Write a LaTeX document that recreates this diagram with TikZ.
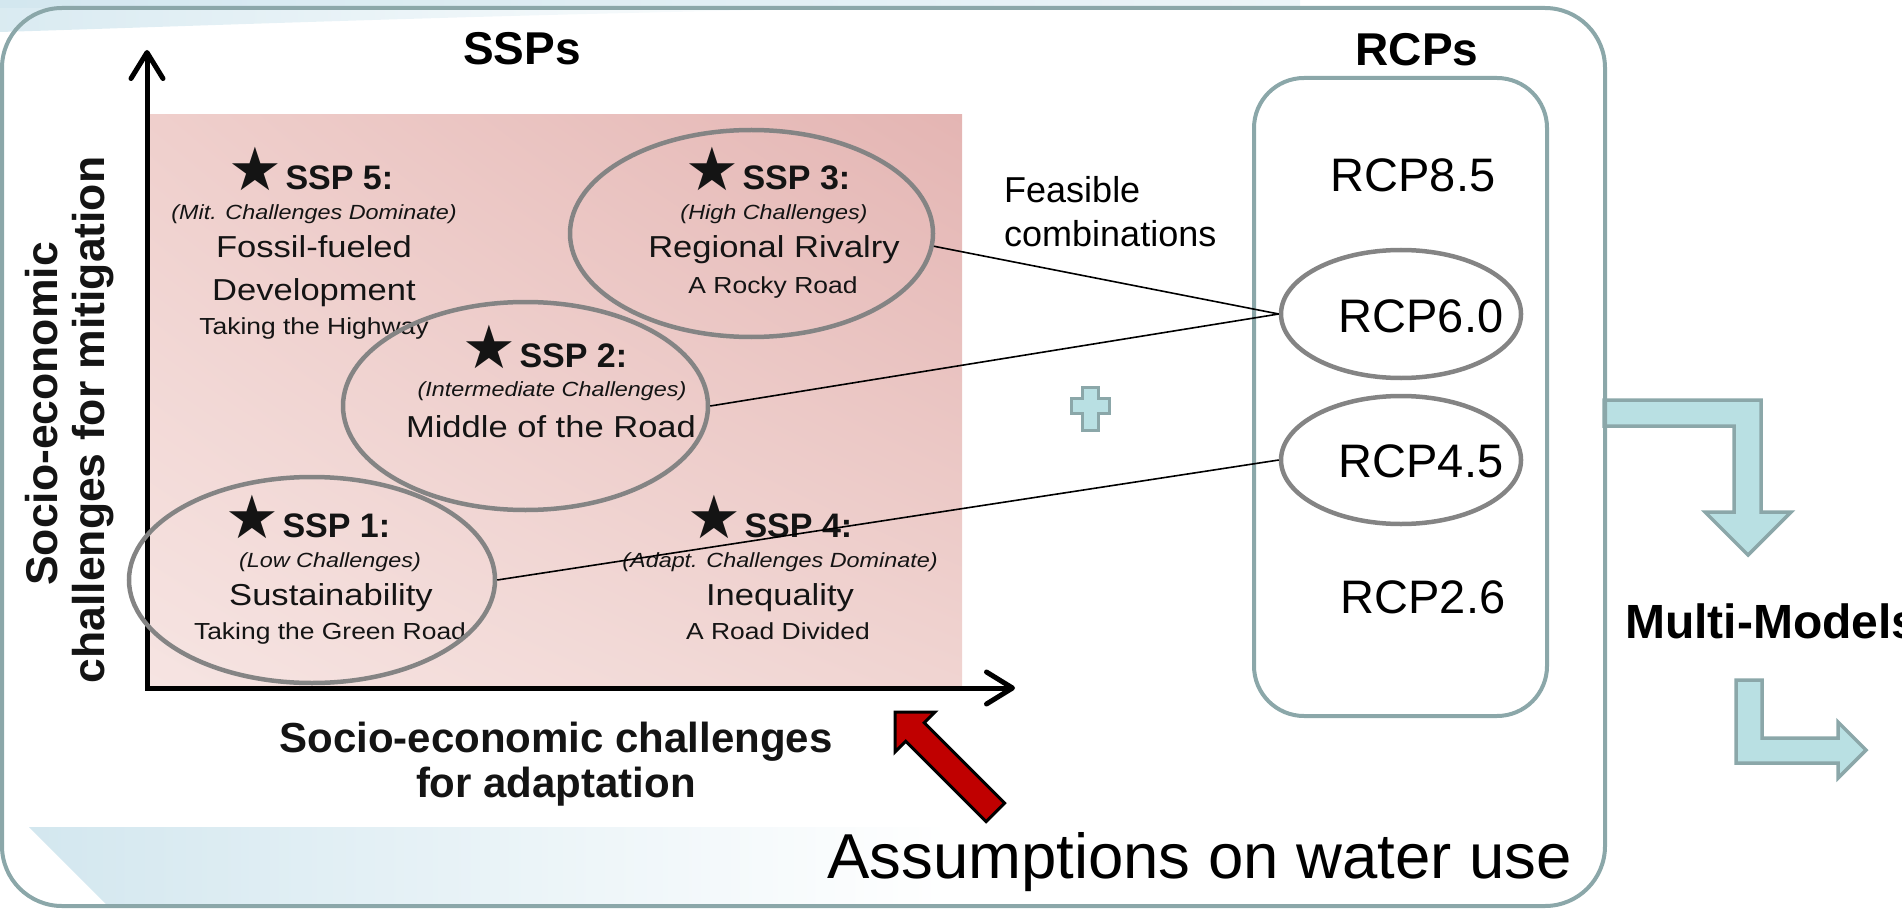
\documentclass[tikz,border=0pt]{standalone}
\usepackage{fontspec}
\setmainfont{Liberation Sans}
\newfontfamily\starfont{DejaVu Sans}
\newfontfamily\figfont[FakeStretch=1.14]{Liberation Sans}
\usetikzlibrary{shapes.geometric,arrows.meta,shadings}
\definecolor{boxc}{HTML}{8BA7A9}
\definecolor{arrfill}{HTML}{B9E0E3}
\definecolor{ellc}{HTML}{848484}
\definecolor{txtc}{HTML}{141414}
\definecolor{pinkTL}{HTML}{EFCFCC}
\definecolor{pinkTR}{HTML}{E4B5B3}
\definecolor{pinkBL}{HTML}{F6E4E2}
\definecolor{pinkBR}{HTML}{F0D4D1}
\definecolor{bandc}{HTML}{D3E7EF}
\definecolor{redarr}{HTML}{C00000}
\newcommand{\bstar}{\hspace*{-6pt}\raisebox{-1pt}{\starfont\fontsize{60}{60}\selectfont ★}\hspace{3pt}}
\begin{document}
\begin{tikzpicture}[x=1pt,y=-1pt,
  ttl/.style={anchor=base,inner sep=0pt,text=txtc,font=\figfont\fontsize{30.3}{34}\selectfont},
  sub/.style={anchor=base,inner sep=0pt,text=txtc,font=\figfont\fontsize{23.2}{26}\selectfont},
  itl/.style={anchor=base,inner sep=0pt,text=txtc,font=\figfont\itshape\fontsize{20.5}{24}\selectfont},
  sspl/.style={anchor=base,inner sep=0pt,text=txtc,font=\fontsize{34}{38}\selectfont\bfseries},
  axl/.style={anchor=base,inner sep=0pt,text=txtc,font=\fontsize{42}{46}\selectfont\bfseries},
  hdr/.style={anchor=base,inner sep=0pt,font=\fontsize{46}{50}\selectfont\bfseries},
  rcp/.style={anchor=base,inner sep=0pt,font=\fontsize{47}{50}\selectfont},
  feas/.style={anchor=base west,inner sep=0pt,font=\fontsize{36}{40}\selectfont},
  ell/.style={ellipse,draw=ellc,line width=4.5pt,inner sep=0pt},
  conn/.style={draw=black,line width=1.6pt},
  axis/.style={line width=5pt,-{Straight Barb[length=26pt,width=32pt,round]}},
  blockarrow/.style={fill=arrfill,draw=boxc,line width=3.5pt,line join=miter}
]
\useasboundingbox (0,0) rectangle (1902,909);
% background decorations
\shade[left color=bandc,right color=bandc!45] (0,0) rectangle (1300,9);
\shade[left color=bandc!85,right color=white] (0,8) -- (880,8) .. controls (500,14) and (200,26) .. (0,32) -- cycle;
\shade[left color=bandc,right color=white] (29,827) -- (950,827) -- (950,905) -- (107,905) -- cycle;
% block arrows
\draw[blockarrow] (1604,400) -- (1761,400) -- (1761,512) -- (1791,512) -- (1748,555) -- (1705,512) -- (1734,512) -- (1734,426) -- (1604,426) -- cycle;
\draw[blockarrow] (1736,680) -- (1762,680) -- (1762,738) -- (1838,738) -- (1838,722) -- (1866,750) -- (1838,778) -- (1838,763) -- (1736,763) -- cycle;
% outer and inner boxes
\draw[boxc,line width=4pt,rounded corners=60pt] (2,8) rectangle (1605,906);
\draw[boxc,line width=4pt,rounded corners=50pt] (1254,78) rectangle (1547,716);
% pink field
\shade[upper left=pinkTL,upper right=pinkTR,lower left=pinkBL,lower right=pinkBR] (150,115) rectangle (962,686);
% axes
\coordinate (ytip) at (147,50);
\coordinate (xtip) at (1015,688);
\draw[axis] (147,690) -- (ytip);
\draw[axis] (145,688) -- (xtip);
\node[axl,rotate=90,font=\fontsize{44.5}{48}\selectfont\bfseries] (yl1) at (57,414) {Socio-economic};
\node[axl,rotate=90,font=\fontsize{44.5}{48}\selectfont\bfseries] (yl2) at (104,420) {challenges for mitigation};
\node[axl] (xl1) at (556,752) {Socio-economic challenges};
\node[axl] (xl2) at (556,797) {for adaptation};
% headers
\node[hdr] (ssps) at (522,65) {SSPs};
\node[hdr] (rcps) at (1417,66) {RCPs};
% SSP 5
\node[sspl] (s5h) at (314,190) {\bstar SSP 5:};
\node[itl] (s5i) at (314,220) {(Mit. Challenges Dominate)};
\node[ttl] (s5t) at (314,258) {Fossil-fueled};
\node[ttl] (s5u) at (314,300) {Development};
\node[sub] (s5s) at (314,334) {Taking the Highway};
% SSP 3
\node[sspl] (s3h) at (771,190) {\bstar SSP 3:};
\node[itl] (s3i) at (774,220) {(High Challenges)};
\node[ttl] (s3t) at (774,258) {Regional Rivalry};
\node[sub] (s3s) at (773,293) {A Rocky Road};
% SSP 2
\node[sspl] (s2h) at (548,367) {\bstar SSP 2:};
\node[itl] (s2i) at (552,396) {(Intermediate Challenges)};
\node[ttl] (s2t) at (551,437) {Middle of the Road};
% SSP 1
\node[sspl] (s1h) at (311,537) {\bstar SSP 1:};
\node[itl] (s1i) at (330,567) {(Low Challenges)};
\node[ttl] (s1t) at (331,605) {Sustainability};
\node[sub] (s1s) at (330,639) {Taking the Green Road};
% SSP 4
\node[sspl] (s4h) at (773,537) {\bstar SSP 4:};
\node[itl] (s4i) at (780,567) {(Adapt. Challenges Dominate)};
\node[ttl] (s4t) at (780,605) {Inequality};
\node[sub] (s4s) at (778,639) {A Road Divided};
% ellipses
\node[ell,minimum width=363pt,minimum height=207pt] (e3) at (751.5,233.5) {};
\node[ell,minimum width=365pt,minimum height=208pt] (e2) at (525.5,406) {};
\node[ell,minimum width=366pt,minimum height=206pt] (e1) at (312,580) {};
% RCPs
\node[rcp] (r85) at (1413,192) {RCP8.5};
\node[rcp] (r60t) at (1421,332) {RCP6.0};
\node[rcp] (r45t) at (1421,477) {RCP4.5};
\node[rcp] (r26) at (1423,613) {RCP2.6};
\node[ell,minimum width=240pt,minimum height=128pt] (r60) at (1401,314) {};
\node[ell,minimum width=240pt,minimum height=128pt] (r45) at (1401,460) {};
% feasible
\node[feas] (f1) at (1004,203) {Feasible};
\node[feas] (f2) at (1004,247) {combinations};
% connectors
\draw[conn] (e3.-4.5) -- (r60.west);
\draw[conn] (e2.east) -- (r60.west);
\draw[conn] (e1.east) -- (r45.west);
% plus sign
\draw[fill=arrfill,draw=boxc,line width=3pt] (1082,387) -- (1098,387) -- (1098,398) -- (1109,398) -- (1109,413) -- (1098,413) -- (1098,430) -- (1082,430) -- (1082,413) -- (1071,413) -- (1071,398) -- (1082,398) -- cycle;
% red arrow
\draw[fill=redarr,draw=black,line width=3pt,line join=miter] (895,712) -- (935,712) -- (924.2,722.8) -- (1004.6,803.2) -- (986.2,821.6) -- (905.8,741.2) -- (895,752) -- cycle;
\node[anchor=base west,inner sep=0pt,font=\fontsize{63.5}{66}\selectfont] (assume) at (827,878) {Assumptions on water use};
\node[anchor=base west,inner sep=0pt,font=\fontsize{48}{52}\selectfont\bfseries] (mm) at (1625,638) {Multi-Models};
\end{tikzpicture}
\end{document}
